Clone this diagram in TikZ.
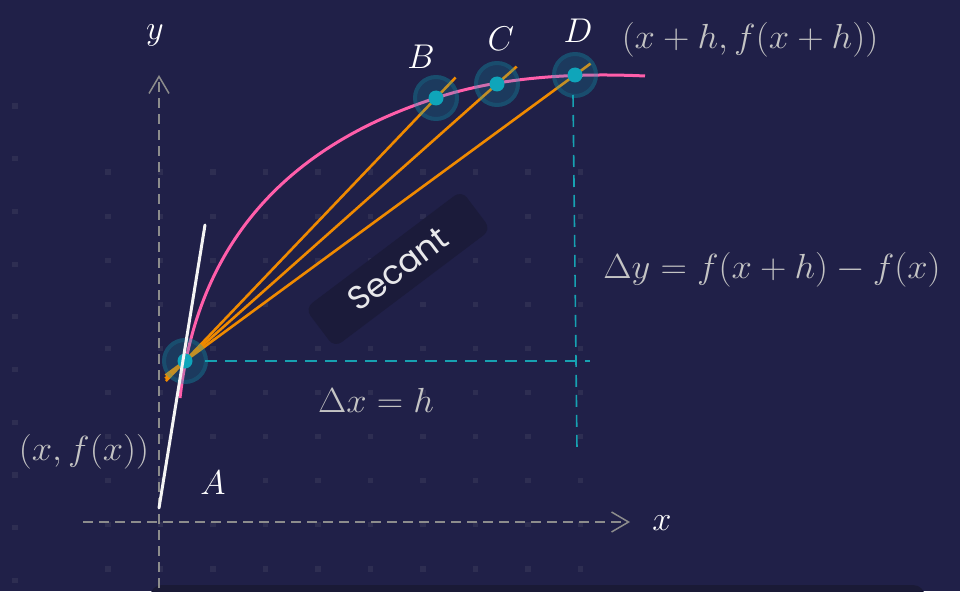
\documentclass[tikz,border=0pt]{standalone}
\usepackage{fontspec}
\newfontfamily\popfont{Poppins}
\usetikzlibrary{calc,arrows.meta}
\definecolor{bgc}{HTML}{202048}
\definecolor{gridc}{HTML}{2E2E52}
\definecolor{stripc}{HTML}{1A1A36}
\definecolor{boxc}{HTML}{1B1B3A}
\definecolor{axisgray}{HTML}{8C8C8C}
\definecolor{guidecyan}{HTML}{17A2B2}
\definecolor{dotc}{HTML}{0FA5BA}
\definecolor{pinkc}{HTML}{FF5EAA}
\definecolor{orangec}{HTML}{F08A00}
\definecolor{whitec}{HTML}{F4F4F4}
\definecolor{graytext}{HTML}{C4C4C4}
\newcommand{\biglbl}[1]{\scalebox{1.38}{$#1$}}
\newcommand{\bigfml}[1]{\scalebox{1.47}[1.4]{$#1$}}
\tikzset{
  axisline/.style={draw=axisgray, line width=1.5pt, dash pattern=on 10pt off 6pt},
  axistip/.style={-{Straight Barb[length=17pt,width=20pt,line width=1.5pt]}},
  guide/.style={draw=guidecyan, line width=1.6pt, dash pattern=on 12pt off 8pt},
  secline/.style={draw=orangec, line width=2.6pt},
  fcurve/.style={draw=pinkc, line width=3pt},
  tangent/.style={draw=whitec, line width=3pt, line cap=round},
  halo/.style={fill=dotc, fill opacity=0.2},
  haloring/.style={draw=dotc, draw opacity=0.18, line width=4pt},
  dotfill/.style={fill=dotc},
  lbl/.style={text=white, font=\fontsize{24.88}{30}\selectfont, inner sep=0pt},
  formula/.style={text=graytext, font=\fontsize{24.88}{30}\selectfont, inner sep=0pt},
  secbox/.style={fill=boxc, rounded corners=9pt, minimum width=196pt, minimum height=49pt,
     text=white!90!boxc, font=\popfont\fontsize{33}{38}\selectfont, inner sep=0pt},
}
\begin{document}
\begin{tikzpicture}[x=1pt,y=-1pt]
\fill[bgc] (0,0) rectangle (960,591);
\useasboundingbox (0,0) rectangle (960,591);
% faint grid squares
\foreach \i in {0,...,9}{
  \foreach \j in {0,...,9}{
    \fill[gridc] ({108+52.5*\i},{172+44.1*\j}) +(-2.6,-2.6) rectangle +(2.6,2.6);
  }
  \fill[gridc] (15,{106+52.7*\i}) +(-2.6,-2.6) rectangle +(2.6,2.6);
}
% bottom strip
\fill[stripc, rounded corners=12pt] (150,585) rectangle (925,615);

% axes
\coordinate (ybot) at (159,588);
\coordinate (ytop) at (159,75);
\coordinate (xleft) at (83,522);
\coordinate (xright) at (630,522);
\draw[axisline, axistip] (ybot) -- (ytop);
\draw[axisline, axistip] (xleft) -- (xright);

% points
\coordinate (A) at (185,361);
\coordinate (B) at (436,98);
\coordinate (C) at (497,84);
\coordinate (D) at (575,75);
\coordinate (Dfoot) at (577,450);
\coordinate (Hend) at (590,361);

% guides
\draw[guide] ($(A)+(20,0)$) -- (Hend);
\draw[guide] ($(D)+(-2,20)$) -- (Dfoot);

% curve
\draw[fcurve] (180,398) .. controls (198,240) and (290,145) .. (B)
  .. controls (490,80) and (560,72) .. (645,76);

% secants
\draw[secline] ($(A)!-0.076!(B)$) -- ($(B)!-0.078!(A)$);
\draw[secline] ($(A)!-0.063!(C)$) -- ($(C)!-0.063!(A)$);
\draw[secline] ($(A)!-0.05!(D)$) -- ($(D)!-0.04!(A)$);

% halos and dots
\foreach \p in {A,B,C,D}{
  \fill[halo] (\p) circle (23);
  \draw[haloring] (\p) circle (21);
  \fill[dotfill] (\p) circle (7.5);
}

% tangent
\coordinate (tbot) at (159,508);
\coordinate (ttop) at (205,225);
\draw[tangent] (tbot) -- (ttop);

% secant box
\node[secbox, rotate=37] (sec) at (398,269) {Secant};

% labels
\node[lbl] (ylab) at (155,35) {\biglbl{y}};
\node[lbl] (xlab) at (662,523) {\biglbl{x}};
\node[lbl] (Alab) at (213,483) {\biglbl{A}};
\node[lbl] (Blab) at (421,57) {\biglbl{B}};
\node[lbl] (Clab) at (501,39) {\biglbl{C}};
\node[lbl] (Dlab) at (578,31) {\biglbl{D}};
\node[formula] (dlab) at (750,40) {\bigfml{(x+h,f(x+h))}};
\node[formula] (dylab) at (772,270) {\bigfml{\Delta y=f(x+h)-f(x)}};
\node[formula] (dxlab) at (376,400) {\bigfml{\Delta x=h}};
\node[formula] (alab) at (84,452) {\bigfml{(x,f(x))}};
\end{tikzpicture}
\end{document}
